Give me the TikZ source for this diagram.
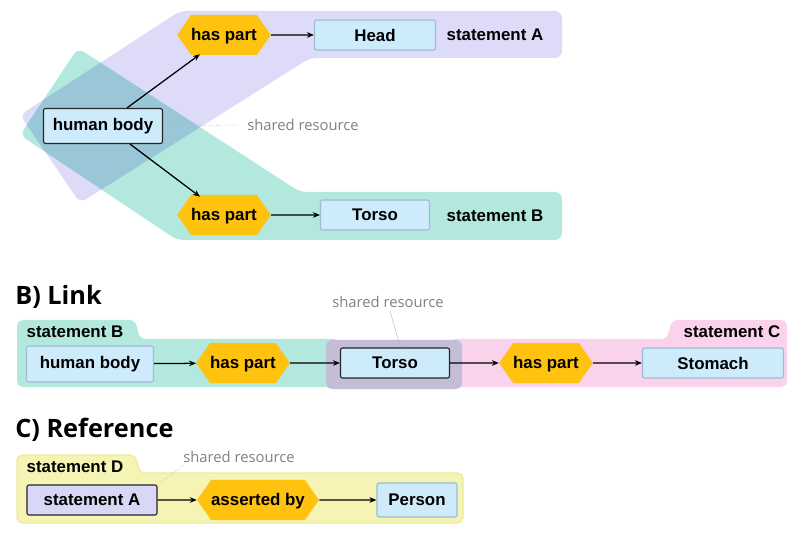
\documentclass[tikz,border=0pt]{standalone}
\usepackage{fontspec}
\setmainfont{Liberation Sans}
\newfontfamily\opensans{Open Sans}
\usetikzlibrary{shapes.symbols,arrows.meta}

\definecolor{purpleband}{HTML}{DEDBF9}
\definecolor{tealband}{HTML}{B2E8DE}
\definecolor{pinkband}{HTML}{FAD2EC}
\definecolor{grayband}{HTML}{C3BDD5}
\definecolor{yellowband}{HTML}{F5F4B4}
\definecolor{yellowedge}{HTML}{ECEB9E}
\definecolor{boxblue}{HTML}{CDEBFA}
\definecolor{boxlav}{HTML}{D8D8F6}
\definecolor{boxedge}{HTML}{9DBDD2}
\definecolor{hexgold}{HTML}{FFC20E}
\definecolor{notegray}{HTML}{808080}

\tikzset{
  box/.style={rectangle, rounded corners=1.5pt, fill=boxblue, draw=boxedge, line width=.8pt,
    inner sep=0pt, font=\bfseries\fontsize{12}{14}\selectfont},
  sharedbox/.style={box, draw=black!85},
  rel/.style={signal, signal to=west and east, signal pointer angle=110, fill=hexgold,
    inner sep=0pt, minimum height=1cm, text height=8.5pt, text depth=0.5pt,
    font=\bfseries\fontsize{12}{14}\selectfont},
  stmt/.style={inner sep=0pt, font=\bfseries\fontsize{12}{14}\selectfont},
  note/.style={inner sep=0pt, text=notegray, font=\opensans\fontsize{10.5}{12}\selectfont},
  title/.style={inner sep=0pt, anchor=west, font=\opensans\bfseries\fontsize{18}{20}\selectfont},
  link/.style={-{Stealth[length=5pt,width=4pt]}, line width=.9pt}
}

\begin{document}
\begin{tikzpicture}[x=0.025cm,y=-0.025cm]
  \useasboundingbox (0,0) rectangle (800,536);

    % A) faixas
  \fill[purpleband, rounded corners=5pt] (20,115) -- (180,11) -- (562,11) -- (562,58)
    -- (310,58) -- (80,203) -- cycle;
  \fill[tealband, rounded corners=5pt, blend mode=multiply] (20,135) -- (78,48) -- (300,192)
    -- (562,192) -- (562,240) -- (177,240) -- cycle;

  \node[sharedbox, minimum width=2.975cm, minimum height=0.875cm] (hbA) at (103,126) {human body};
  \node[rel, minimum width=2.2cm] (hpA1) at (224,35) {has part};
  \node[rel, minimum width=2.2cm] (hpA2) at (224,215) {has part};
  \node[box, minimum width=3.025cm, minimum height=0.75cm] (head) at (375,35) {Head};
  \node[box, minimum width=2.725cm, minimum height=0.75cm] (torsoA) at (375,215) {Torso};
  \node[stmt] (stmtA) at (495,35) {statement A};
  \node[stmt] (stmtB) at (495,216) {statement B};
  \node[note] (srA) at (303,125) {shared resource};

  \draw[link] ([shift={(24,0)}]hbA.north) -- ([shift={(-24,-1)}]hpA1.south);
  \draw[link] ([shift={(27,0)}]hbA.south) -- ([shift={(-24,2)}]hpA2.north);
  \draw[link] (hpA1) -- (head);
  \draw[link] (hpA2) -- (torsoA);
  \draw[densely dotted, notegray!60] (hbA.east) -- ([xshift=-7]srA.west);

    % B) Link
  \node[title] (titB) at (15,297) {B) Link};
  \fill[tealband, rounded corners=4pt] (17,387) -- (17,320) -- (135,320) -- (140,339)
    -- (340,339) -- (340,387) -- cycle;
  \fill[pinkband, rounded corners=4pt] (450,387) -- (450,339) -- (667,339) -- (672,320)
    -- (787,320) -- (787,387) -- cycle;
  \fill[grayband, rounded corners=4pt] (326,340) rectangle (462,389);

  \node[stmt] (stmtB2) at (75,332) {statement B};
  \node[stmt] (stmtC) at (732,332) {statement C};
  \node[box, minimum width=3.175cm, minimum height=0.9cm] (hbB) at (90,364) {human body};
  \node[rel, minimum width=2.175cm] (hpB1) at (243,363) {has part};
  \node[sharedbox, minimum width=2.725cm, minimum height=0.75cm] (torsoB) at (395,363) {Torso};
  \node[rel, minimum width=2.2cm] (hpB2) at (546,363) {has part};
  \node[box, minimum width=3.525cm, minimum height=0.75cm] (stomach) at (713,363) {Stomach};
  \node[note] (srB) at (388,302) {shared resource};

  \draw[link] (hbB) -- (hpB1);
  \draw[link] (hpB1) -- (torsoB);
  \draw[link] (torsoB) -- (hpB2);
  \draw[link] (hpB2) -- (stomach);
  \draw[notegray!60, line width=.3pt] ([shift={(2,3)}]srB.south) -- ([xshift=4]torsoB.north);

    % C) Reference
  \node[title] (titC) at (15,430) {C) Reference};
  \fill[yellowband, draw=yellowedge, line width=1pt, rounded corners=4pt] (17,523) -- (17,455)
    -- (135,455) -- (140,473) -- (463,473) -- (463,523) -- cycle;

  \node[stmt] (stmtD) at (75,467) {statement D};
  \node[sharedbox, fill=boxlav, minimum width=3.25cm, minimum height=0.75cm] (stA) at (92,500) {statement A};
  \node[rel, minimum width=2.825cm] (asby) at (258,500) {asserted by};
  \node[box, minimum width=2cm, minimum height=0.85cm] (person) at (417,500) {Person};
  \node[note] (srC) at (239,457) {shared resource};

  \draw[link] (stA) -- (asby);
  \draw[link] (asby) -- (person);
  \draw[densely dotted, notegray!60] (stA.north east) -- ([shift={(1,2)}]srC.south west);
\end{tikzpicture}
\end{document}
